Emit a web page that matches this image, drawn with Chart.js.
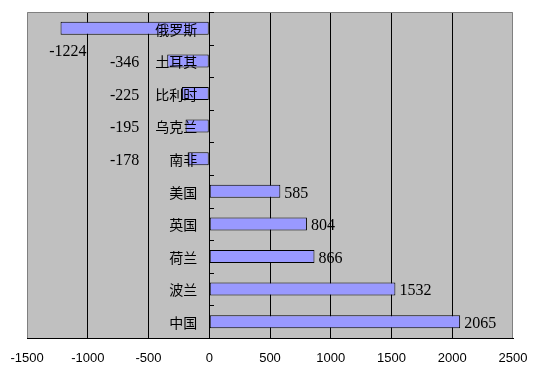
<!DOCTYPE html>
<html><head><meta charset="utf-8">
<script src="https://cdn.jsdelivr.net/npm/chart.js@4/dist/chart.umd.min.js"></script>
<style>html,body{margin:0;padding:0;background:#fff}#wrap{width:533px;height:374px}</style>
</head><body><div id="wrap"><canvas id="c" width="533" height="374"></canvas></div>
<script>
const categories = ['俄罗斯','土耳其','比利时','乌克兰','南非','美国','英国','荷兰','波兰','中国'];
const values = [-1224, -346, -225, -195, -178, 585, 804, 866, 1532, 2065];
const xTickValues = [-1500, -1000, -500, 0, 500, 1000, 1500, 2000, 2500];

const decorPlugin = {
  id: 'decor',
  beforeDraw(chart) {
    const a = chart.chartArea, ctx = chart.ctx;
    ctx.save();
    ctx.fillStyle = '#C0C0C0';
    ctx.fillRect(a.left, a.top, a.right - a.left, a.bottom - a.top);
    ctx.restore();
  },
  afterDatasetsDraw(chart) {
    const a = chart.chartArea, ctx = chart.ctx;
    const xs = chart.scales.x, ys = chart.scales.y;
    const x0 = xs.getPixelForValue(0);
    ctx.save();
    ctx.strokeStyle = '#808080';
    ctx.lineWidth = 1;
    ctx.beginPath();
    ctx.moveTo(a.left + 0.5, a.bottom);
    ctx.lineTo(a.left + 0.5, a.top + 0.5);
    ctx.lineTo(a.right - 0.5, a.top + 0.5);
    ctx.lineTo(a.right - 0.5, a.bottom);
    ctx.stroke();
    ctx.strokeStyle = '#000';
    ctx.beginPath();
    for (let i = 0; i <= categories.length; i++) {
      const y = Math.round(ys.getPixelForValue(i - 0.5)) + 0.5;
      ctx.moveTo(Math.round(x0), y);
      ctx.lineTo(Math.round(x0) + 5, y);
    }
    ctx.stroke();
    ctx.fillStyle = '#000';
    ctx.font = '14px "Noto Sans CJK SC"';
    ctx.textAlign = 'right';
    ctx.textBaseline = 'middle';
    const meta = chart.getDatasetMeta(0);
    categories.forEach((c, i) => {
      ctx.fillText(c, x0 - 12, meta.data[i].y + 1);
    });
    ctx.font = '16px "Liberation Serif"';
    values.forEach((v, i) => {
      const bar = meta.data[i];
      if (v >= 0) {
        ctx.textAlign = 'left';
        ctx.fillText(String(v), bar.x + 4, bar.y + 2);
      } else {
        ctx.textAlign = 'right';
        const near = bar.x + 26;
        const far = x0 - 70;
        if (near < far) {
          ctx.fillText('-' + Math.abs(v), near, bar.y + 23);
        } else {
          ctx.fillText('-' + Math.abs(v), far, bar.y + 2);
        }
      }
    });
    ctx.restore();
  }
};

new Chart(document.getElementById('c'), {
  type: 'bar',
  data: {
    labels: categories,
    datasets: [{
      data: values,
      backgroundColor: '#9999FF',
      borderColor: '#000',
      borderWidth: 1,
      borderSkipped: false,
      barPercentage: 0.4,
      categoryPercentage: 1.0
    }]
  },
  options: {
    indexAxis: 'y',
    responsive: false,
    devicePixelRatio: 1,
    animation: false,
    layout: { padding: { left: 27, right: 20, top: 12, bottom: 0 } },
    plugins: { legend: { display: false }, tooltip: { enabled: false } },
    scales: {
      x: {
        type: 'linear',
        min: -1500, max: 2500,
        afterBuildTicks(scale) { scale.ticks = xTickValues.map(v => ({ value: v })); },
        afterFit(scale) { scale.height = 36; scale.paddingLeft = 0; scale.paddingRight = 0; },
        grid: {
          color: (ctx) => (ctx.tick && (ctx.tick.value === -1500 || ctx.tick.value === 2500)) ? 'rgba(0,0,0,0)' : '#000',
          lineWidth: 1,
          drawTicks: false
        },
        border: { display: true, color: '#000', width: 1 },
        ticks: {
          padding: 13,
          color: '#000',
          font: { family: '"Liberation Sans"', size: 13 },
          maxRotation: 0,
          autoSkip: false,
          callback: (v) => String(v)
        }
      },
      y: {
        type: 'category',
        display: false,
        offset: true
      }
    }
  },
  plugins: [decorPlugin]
});
</script></body></html>
